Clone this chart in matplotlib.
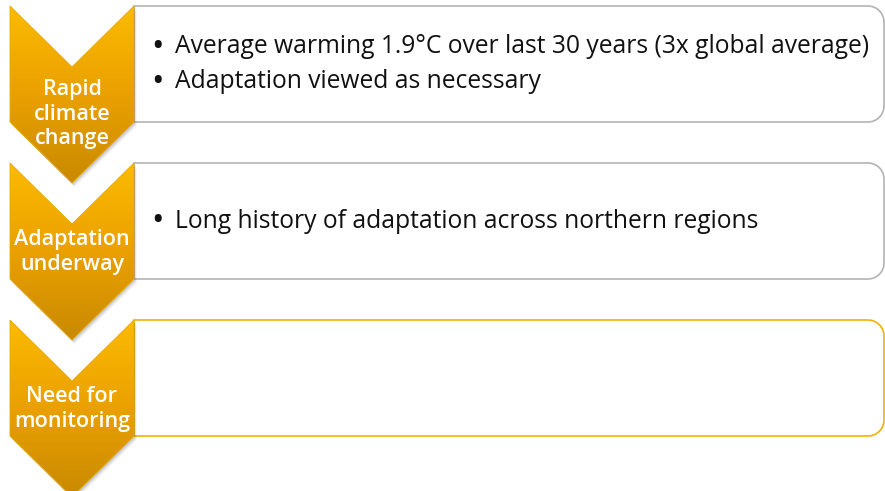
import numpy as np
import matplotlib
matplotlib.use("Agg")
import matplotlib.pyplot as plt
from matplotlib.patches import Polygon, PathPatch
from matplotlib.path import Path

# stage labels and the bullets shown next to each
stages = ["Rapid\nclimate\nchange", "Adaptation\nunderway", "Need for\nmonitoring"]
bullets = [
    ["Average warming 1.9°C over last 30 years (3x global average)",
     "Adaptation viewed as necessary"],
    ["Long history of adaptation across northern regions"],
    [],
]
box_edges = ["#b4b4b4", "#b4b4b4", "#f2b300"]

W, H = 885, 491
fig = plt.figure(figsize=(W / 100, H / 100), dpi=100)
ax = fig.add_axes([0, 0, 1, 1])
ax.set_xlim(0, W)
ax.set_ylim(H, 0)
ax.axis("off")

plt.rcParams["font.family"] = ["Open Sans", "DejaVu Sans"]

x0, x1 = 10, 134       # chevron left / right
top0, step = 6, 157    # first chevron top, vertical step
depth = 61             # notch / tip depth
side = 116             # straight side length
box_right = 884
radius = 16
line_gap = 35


def right_rounded_box(l, t, r, b, rad):
    a1 = np.linspace(-np.pi / 2, 0, 12)
    a2 = np.linspace(0, np.pi / 2, 12)
    verts = [(l, t)]
    verts += [(r - rad + rad * np.cos(a), t + rad + rad * np.sin(a)) for a in a1]
    verts += [(r - rad + rad * np.cos(a), b - rad + rad * np.sin(a)) for a in a2]
    verts += [(l, b), (l, t)]
    return Path(verts, closed=True)


grad = np.linspace(0, 1, 256)[:, None]
cmap = matplotlib.colors.LinearSegmentedColormap.from_list(
    "chev", ["#fcbb00", "#eaa000", "#c98a00"])

for i, label in enumerate(stages):
    t = top0 + i * step
    b = t + side
    # box on the right
    box = PathPatch(right_rounded_box(x1, t, box_right, b, radius),
                    facecolor="white", edgecolor=box_edges[i], lw=1.2, zorder=1)
    ax.add_patch(box)

    xm = (x0 + x1) / 2
    pts = [(x0, t), (xm, t + depth), (x1, t), (x1, b), (xm, b + depth), (x0, b)]
    # soft shadow
    for k, a in enumerate([0.10, 0.07, 0.04]):
        sh = Polygon([(px + 1 + k, py + 2 + k) for px, py in pts],
                     closed=True, facecolor="black", edgecolor="none",
                     alpha=a, zorder=2)
        ax.add_patch(sh)
    chev = Polygon(pts, closed=True, facecolor="none", edgecolor="#e6a800",
                   lw=0.6, zorder=4)
    ax.add_patch(chev)
    im = ax.imshow(grad, cmap=cmap, aspect="auto",
                   extent=[x0, x1, b + depth, t], zorder=3)
    im.set_clip_path(chev)

    n_lines = label.count("\n") + 1
    ly = t + (108 if n_lines == 3 else 89)
    ax.text(xm, ly, label, ha="center", va="center", color="white",
            fontsize=15.5, fontweight="semibold", linespacing=1.2, zorder=5)

    n = len(bullets[i])
    ymid = (t + b) / 2
    for j, line in enumerate(bullets[i]):
        y = ymid + (j - (n - 1) / 2) * line_gap
        ax.text(157, y + 1, "•", ha="center", va="center", fontsize=24,
                color="#111111", zorder=5)
        ax.text(175, y, line, ha="left", va="center", fontsize=17.7,
                color="#111111", zorder=5)

ax.set_ylim(H, 0)
fig.savefig("out.png", dpi=100)
